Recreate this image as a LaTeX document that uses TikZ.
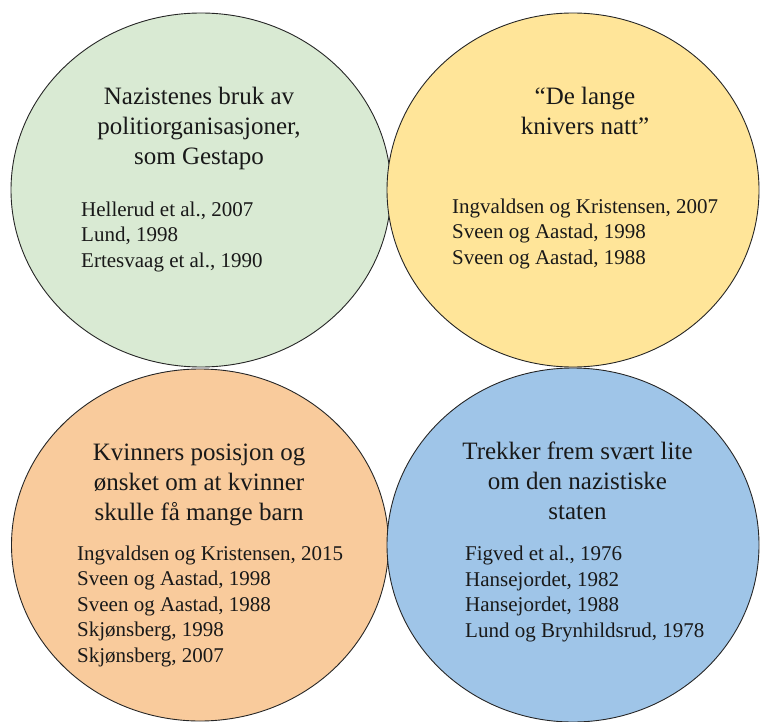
\documentclass[tikz,border=0pt]{standalone}
\usepackage{fontspec}
\setmainfont{Liberation Serif}
\usetikzlibrary{shapes.geometric}
\definecolor{sage}{HTML}{D9EAD3}
\definecolor{butter}{HTML}{FFE599}
\definecolor{peach}{HTML}{F9CB9C}
\definecolor{sky}{HTML}{9FC5E8}
\begin{document}
\begin{tikzpicture}[x=1pt,y=-1pt,
  bubble/.style={ellipse, draw=black!85, line width=0.9pt, inner sep=0pt},
  % multi-line nodes: the base anchor sits on the baseline of the last line
  heading/.style={align=center, font=\fontsize{25}{30}\selectfont, anchor=base, inner sep=0pt, text=black!90},
  refs/.style={align=left, font=\fontsize{21}{25.5}\selectfont, anchor=base west, inner sep=0pt, text=black!90}]
\useasboundingbox (0,0) rectangle (760,722);

% the four topic bubbles
\node[bubble, fill=sage,   minimum width=380pt, minimum height=354pt] (gestapo) at (201,190) {};
\node[bubble, fill=peach,  minimum width=377pt, minimum height=352pt] (women)   at (200,545) {};
\node[bubble, fill=butter, minimum width=372pt, minimum height=354pt] (knives)  at (573,190) {};
\node[bubble, fill=sky,    minimum width=372pt, minimum height=354pt] (state)   at (573,545) {};

% headings
\node[heading] (gestapo-h) at (199,165) {Nazistenes bruk av\\politiorganisasjoner,\\som Gestapo};
\node[heading] (knives-h)  at (585,135) {“De lange\\knivers natt”};
\node[heading] (women-h)   at (199,520) {Kvinners posisjon og\\ønsket om at kvinner\\skulle få mange barn};
\node[heading] (state-h)   at (577.5,519) {Trekker frem svært lite\\om den nazistiske\\staten};

% sources
\node[refs] (gestapo-r) at (81,267) {Hellerud et al., 2007\\Lund, 1998\\Ertesvaag et al., 1990};
\node[refs] (knives-r)  at (452,264) {Ingvaldsen og Kristensen, 2007\\Sveen og Aastad, 1998\\Sveen og Aastad, 1988};
\node[refs] (women-r)   at (77,662) {Ingvaldsen og Kristensen, 2015\\Sveen og Aastad, 1998\\Sveen og Aastad, 1988\\Skjønsberg, 1998\\Skjønsberg, 2007};
\node[refs] (state-r)   at (465,637) {Figved et al., 1976\\Hansejordet, 1982\\Hansejordet, 1988\\Lund og Brynhildsrud, 1978};
\end{tikzpicture}
\end{document}
